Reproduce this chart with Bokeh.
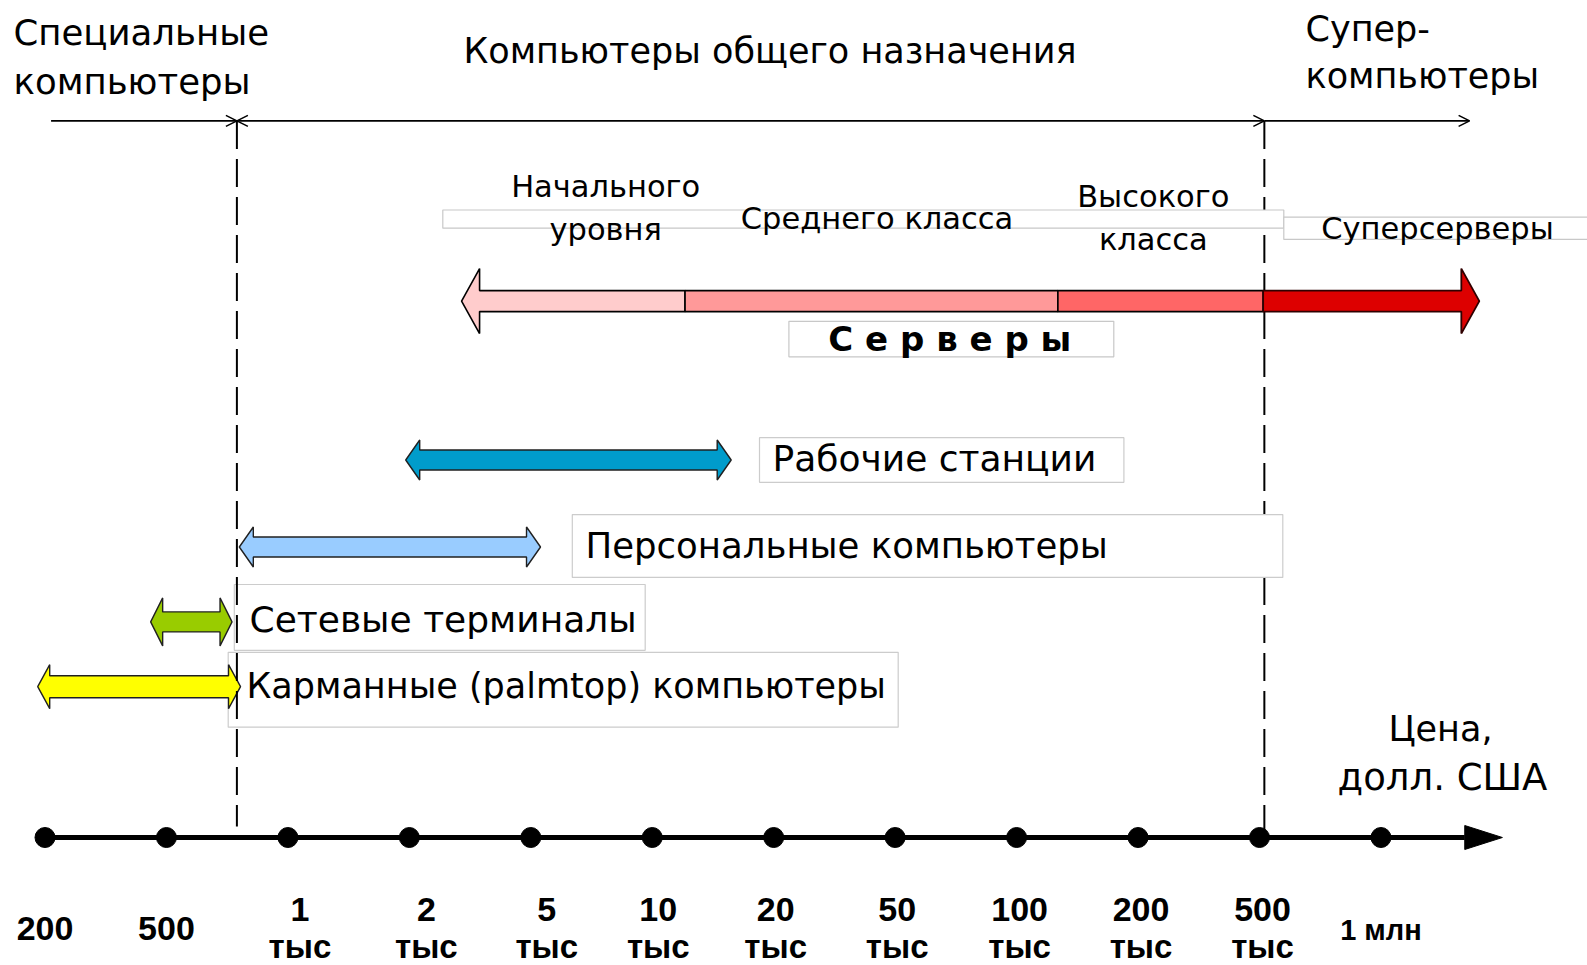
from bokeh.plotting import figure
from bokeh.models import Range1d, Arrow, OpenHead
from bokeh.core.properties import value
from bokeh.embed import file_html
from bokeh.resources import INLINE

# ---------------- data ----------------
price_ticks = [200, 500, 1000, 2000, 5000, 10000, 20000, 50000, 100000, 200000, 500000, 1000000]
tick_numbers = ["200", "500", "1", "2", "5", "10", "20", "50", "100", "200", "500", "1 млн"]
tick_units = ["", "", "тыс", "тыс", "тыс", "тыс", "тыс", "тыс", "тыс", "тыс", "тыс", ""]

segment_titles = ["Специальные\nкомпьютеры", "Компьютеры общего назначения", "Супер-\nкомпьютеры"]
segment_bounds = [0.05, 1.58, 10.04, 11.73]      # positions on the price scale (tick index)

class_names = ["Рабочие станции", "Персональные компьютеры", "Сетевые терминалы",
               "Карманные (palmtop) компьютеры"]
class_low = [2.97, 1.60, 0.87, -0.06]            # tick-index position of lower price
class_high = [5.65, 4.08, 1.54, 1.61]            # tick-index position of upper price
class_colors = ["#009CCB", "#99CCFF", "#99CC00", "#FFFF00"]

server_title = "Серверы"
server_classes = ["Начального\nуровня", "Среднего класса", "Высокого\nкласса", "Суперсерверы"]
server_bounds = [3.43, 5.27, 8.34, 10.03, 11.81]
server_colors = ["#FFCCCC", "#FF9999", "#FF6666", "#DD0000"]

axis_title = "Цена,\nдолл. США"

# ---------------- layout ----------------
W, H = 1587, 965
ORIGIN = 0            # page pixel of the figure's top-left corner
PPU = 121.45          # pixels per tick step
X0 = 44.5             # page pixel of tick index 0


def ux(px):           # page pixel x -> data x
    return (px - X0) / PPU


def lx(length):       # pixel length -> data length
    return length / PPU


p = figure(width=W, height=H, output_backend="svg", toolbar_location=None,
           x_range=Range1d(ux(ORIGIN), ux(ORIGIN + W)),
           y_range=Range1d(ORIGIN + H, ORIGIN),
           x_axis_type=None, y_axis_type=None, min_border=0,
           outline_line_color=None, background_fill_color="white",
           border_fill_color="white")
p.grid.visible = False

FONT = value("DejaVu Sans")
BFONT = value("Liberation Sans")


def put_text(x, y, txt, size, align="left", bold=False, font=FONT, color="black"):
    p.text(x=[x], y=[y], text=[txt], text_font=font, text_font_size=value(f"{size}px"),
           text_align=align, text_baseline="middle",
           text_font_style="bold" if bold else "normal", text_color=color)


def arrow_poly(x0, x1, y, hl, hh, sh, left=True, right=True):
    hl = lx(hl)
    xs, ys = [], []
    if left:
        xs += [x0, x0 + hl, x0 + hl]
        ys += [y, y - hh, y - sh]
    else:
        xs += [x0]
        ys += [y - sh]
    if right:
        xs += [x1 - hl, x1 - hl, x1, x1 - hl, x1 - hl]
        ys += [y - sh, y - hh, y, y + hh, y + sh]
    else:
        xs += [x1, x1]
        ys += [y - sh, y + sh]
    if left:
        xs += [x0 + hl, x0 + hl]
        ys += [y + sh, y + hh]
    else:
        xs += [x0]
        ys += [y + sh]
    return xs, ys


# ---- header ----
HEAD_Y = 120.4
title_lines = [t.split("\n") for t in segment_titles]
put_text(ux(13), 32.4, title_lines[0][0], 35.5)
put_text(ux(13), 81.0, title_lines[0][1], 35.5)
put_text(ux(769.5), 50.6, title_lines[1][0], 35, align="center")
put_text(ux(1305), 28.3, title_lines[2][0], 35)
put_text(ux(1305), 75.9, title_lines[2][1], 35)

for i in range(3):
    start = OpenHead(size=11, line_width=1.6) if i == 1 else None
    p.add_layout(Arrow(x_start=segment_bounds[i], y_start=HEAD_Y,
                       x_end=segment_bounds[i + 1], y_end=HEAD_Y,
                       start=start, end=OpenHead(size=11, line_width=1.6),
                       line_width=1.6, line_color="black"))

# right dashed divider (under boxes)
p.segment(x0=[segment_bounds[2]], y0=[HEAD_Y], x1=[segment_bounds[2]], y1=[835],
          line_color="black", line_width=2, line_dash="28 10")

# ---- servers ----
SY = 300.6
strips = [(442.3, 1283.3, 209.5, 227.7), (1283.3, 1600, 216.6, 238.9)]
for l, r, t, b in strips:
    p.quad(left=[ux(l)], right=[ux(r)], top=[t], bottom=[b], fill_color="white",
           line_color="#C8C8C8", line_width=1.2)

srv_label_pos = [(605.2, [186.2, 228.7]), (876.5, [217.6]), (1152.8, [196.3, 238.9]), (1437, [227.7])]
for name, (cx, ys) in zip(server_classes, srv_label_pos):
    for line, yy in zip(name.split("\n"), ys):
        put_text(ux(cx), yy, line, 30.5, align="center")

xs, ys = arrow_poly(server_bounds[0], server_bounds[1], SY, 18, 32.5, 10.5, left=True, right=False)
p.patch(xs, ys, fill_color=server_colors[0], line_color="black", line_width=1.6)
for k in (1, 2):
    p.quad(left=[server_bounds[k]], right=[server_bounds[k + 1]], top=[SY - 10.5], bottom=[SY + 10.5],
           fill_color=server_colors[k], line_color="black", line_width=1.6)
xs, ys = arrow_poly(server_bounds[3], server_bounds[4], SY, 18, 32.5, 10.5, left=False, right=True)
p.patch(xs, ys, fill_color=server_colors[3], line_color="#300000", line_width=1.8)

p.quad(left=[ux(788.4)], right=[ux(1113.3)], top=[320.8], bottom=[356.3], fill_color="white",
       line_color="#C8C8C8", line_width=1.2)
put_text(ux(949.3), 338, " ".join(server_title), 34, align="center", bold=True)

# ---- computer classes ----
row_y = [459.5, 546.5, 621.4, 686.2]
head_len = [14, 14, 12, 12]
head_half = [20, 20, 24, 22]
shaft_half = [10, 10, 10, 11]
boxes = [(759, 1123.4, 437.2, 481.8), (571.8, 1282.3, 514.1, 576.9),
         (233.8, 644.7, 584.0, 649.8), (227.7, 897.7, 651.8, 726.7)]
text_x = [772, 585, 249, 246]
text_y = [457.5, 544.5, 619.4, 685.2]
text_size = [36, 35.5, 36, 35]

for (l, r, t, b) in boxes:
    p.quad(left=[ux(l)], right=[ux(r)], top=[t], bottom=[b], fill_color="white",
           line_color="#CCCCCC", line_width=1.2)

for i in range(len(class_names)):
    xs, ys = arrow_poly(class_low[i], class_high[i], row_y[i], head_len[i], head_half[i], shaft_half[i])
    p.patch(xs, ys, fill_color=class_colors[i], line_color="#202020", line_width=1.4)
    put_text(ux(text_x[i]), text_y[i], class_names[i], text_size[i])

# left dashed divider (on top)
p.segment(x0=[segment_bounds[1]], y0=[HEAD_Y], x1=[segment_bounds[1]], y1=[826],
          line_color="black", line_width=2, line_dash="28 10")

# ---- price axis ----
AY = 837
tick_pos = list(range(len(price_ticks)))
p.line(x=[tick_pos[0], 11.69], y=[AY, AY], line_width=5, line_color="black")
p.patch([11.69, 12.0, 11.69], [AY - 12, AY, AY + 12], fill_color="black", line_color="black")
p.scatter(x=tick_pos, y=[AY] * len(tick_pos), size=20, marker="circle",
          fill_color="black", line_color="black")

label_dx = [0, 0, 12, 17, 16, 6, 2, 2, 3, 3, 3, 0]   # label nudges in pixels
for i, (num, unit) in enumerate(zip(tick_numbers, tick_units)):
    xi = i + lx(label_dx[i])
    if unit:
        put_text(xi, 909, num, 34, align="center", bold=True, font=BFONT)
        put_text(xi, 946, unit, 33, align="center", bold=True, font=BFONT)
    elif " " in num:
        put_text(xi, 929, num, 29, align="center", bold=True, font=BFONT)
    else:
        put_text(xi, 928, num, 34, align="center", bold=True, font=BFONT)

at = axis_title.split("\n")
put_text(ux(1440), 728.7, at[0], 35, align="center")
put_text(ux(1442), 777.3, at[1], 37, align="center")

open("out.html", "w").write(file_html(p, INLINE))
